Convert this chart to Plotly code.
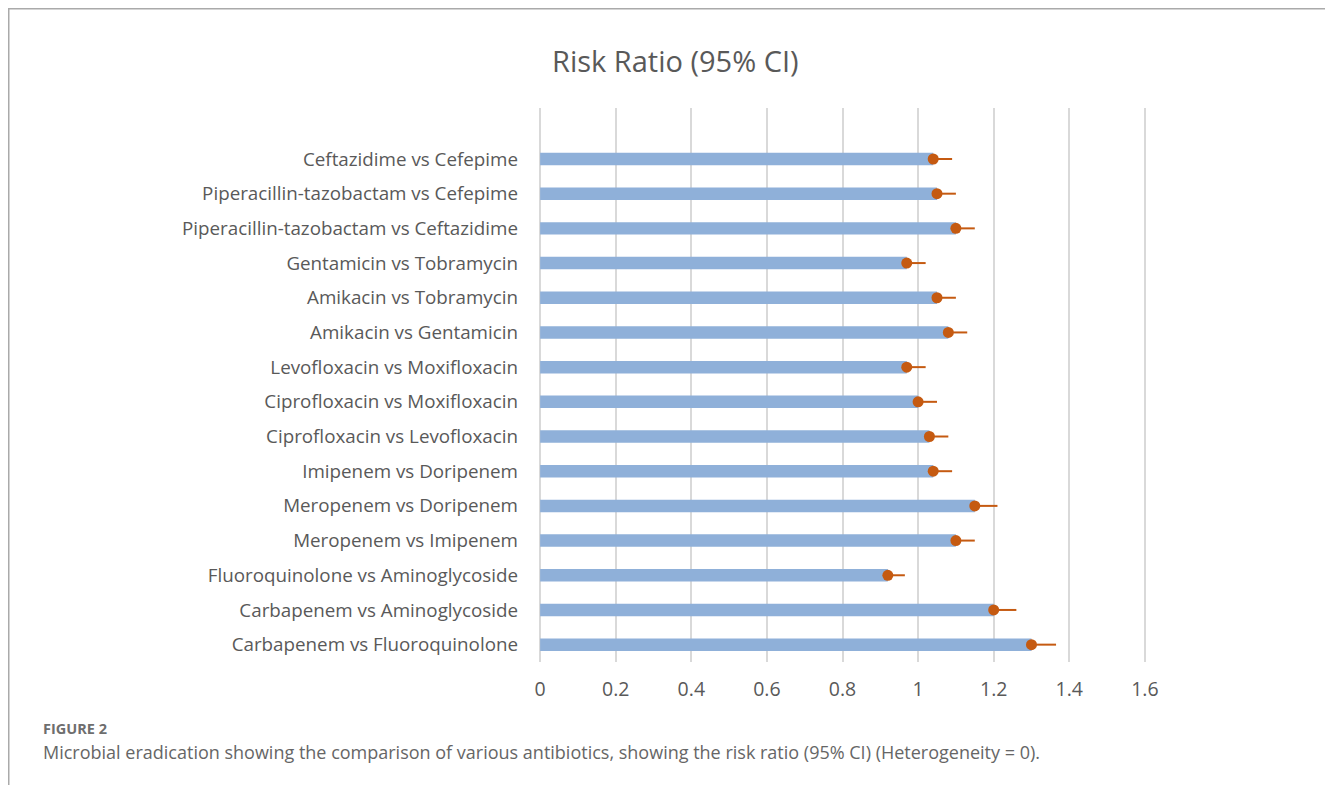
import plotly.graph_objects as go

# Categories listed top to bottom as in the chart
categories = [
    "Ceftazidime vs Cefepime",
    "Piperacillin-tazobactam vs Cefepime",
    "Piperacillin-tazobactam vs Ceftazidime",
    "Gentamicin vs Tobramycin",
    "Amikacin vs Tobramycin",
    "Amikacin vs Gentamicin",
    "Levofloxacin vs Moxifloxacin",
    "Ciprofloxacin vs Moxifloxacin",
    "Ciprofloxacin vs Levofloxacin",
    "Imipenem vs Doripenem",
    "Meropenem vs Doripenem",
    "Meropenem vs Imipenem",
    "Fluoroquinolone vs Aminoglycoside",
    "Carbapenem vs Aminoglycoside",
    "Carbapenem vs Fluoroquinolone",
]
risk_ratio = [1.04, 1.05, 1.10, 0.97, 1.05, 1.08, 0.97, 1.00, 1.03, 1.04, 1.15, 1.10, 0.92, 1.20, 1.30]
upper_ci = [1.09, 1.10, 1.15, 1.02, 1.10, 1.13, 1.02, 1.05, 1.08, 1.09, 1.21, 1.15, 0.965, 1.26, 1.365]
x_ticks = [0, 0.2, 0.4, 0.6, 0.8, 1, 1.2, 1.4, 1.6]
x_tick_labels = ["0", "0.2", "0.4", "0.6", "0.8", "1", "1.2", "1.4", "1.6"]

cats = categories[::-1]
vals = risk_ratio[::-1]
ups = upper_ci[::-1]
err_plus = [u - v for u, v in zip(ups, vals)]

OFF = 8  # page body margin
W, H = 1333 - OFF, 785 - OFF
L, R, T, B = 539 - OFF, 1146 - OFF, 108 - OFF, 662 - OFF

def px(x):
    return (x - OFF - L) / (R - L)

def py(y):
    return (B - (y - OFF)) / (B - T)

GRAY = "#595959"
FONT = "Open Sans"

fig = go.Figure()
fig.add_trace(go.Bar(
    y=cats, x=vals, orientation="h",
    marker=dict(color="#8FB0D9", line=dict(width=0)),
    width=0.36, hoverinfo="skip", showlegend=False,
))
fig.add_trace(go.Scatter(
    y=cats, x=vals, mode="markers",
    marker=dict(color="#C55A11", size=11),
    error_x=dict(type="data", symmetric=False, array=err_plus,
                 arrayminus=[0] * len(vals), color="#C55A11",
                 thickness=2, width=0),
    showlegend=False,
))

fig.update_layout(
    width=W, height=H,
    margin=dict(l=L, r=W - R, t=T, b=H - B, pad=0),
    paper_bgcolor="white", plot_bgcolor="white",
    font=dict(family=FONT, color=GRAY),
    xaxis=dict(range=[-0.003, 1.603], tickvals=x_ticks, ticktext=x_tick_labels,
               showgrid=True, gridcolor="#D9D9D9", gridwidth=2,
               zeroline=False, showline=False, ticks="",
               tickfont=dict(size=19.5, color=GRAY, family=FONT), ticklabelstandoff=13),
    yaxis=dict(type="category", categoryorder="array", categoryarray=cats,
               range=[-0.5, 15.47], showgrid=False, zeroline=False,
               showline=False, ticks="",
               tickfont=dict(size=18.8, color=GRAY, family=FONT), ticklabelstandoff=20),
    bargap=0.6,
)

fig.add_annotation(text="Risk Ratio (95% CI)", xref="paper", yref="paper",
                   x=px(675), y=py(60), xanchor="center", yanchor="middle",
                   showarrow=False, font=dict(size=29, color=GRAY, family=FONT))
fig.add_annotation(text="<b>FIGURE 2</b>", xref="paper", yref="paper",
                   x=px(41), y=py(728), xanchor="left", yanchor="middle",
                   showarrow=False, font=dict(size=14.5, color="#6E6E6E", family="Open Sans"))
fig.add_annotation(text="Microbial eradication showing the comparison of various antibiotics, showing the risk ratio (95% CI) (Heterogeneity = 0).",
                   xref="paper", yref="paper",
                   x=px(41), y=py(752), xanchor="left", yanchor="middle",
                   showarrow=False, font=dict(size=18, color="#666666", family="Open Sans"))

# Frame lines of the figure box
fig.add_shape(type="line", xref="paper", yref="paper",
              x0=px(8), x1=px(1332.5), y0=py(8.75), y1=py(8.75),
              line=dict(color="#AAAAAA", width=1.5))
fig.add_shape(type="line", xref="paper", yref="paper",
              x0=px(8.75), x1=px(8.75), y0=py(8), y1=py(785),
              line=dict(color="#AAAAAA", width=1.5))
fig.add_shape(type="line", xref="paper", yref="paper",
              x0=px(1332), x1=px(1332), y0=py(8), y1=py(785),
              line=dict(color="#AAAAAA", width=1.5))

fig.write_html("out.html")
